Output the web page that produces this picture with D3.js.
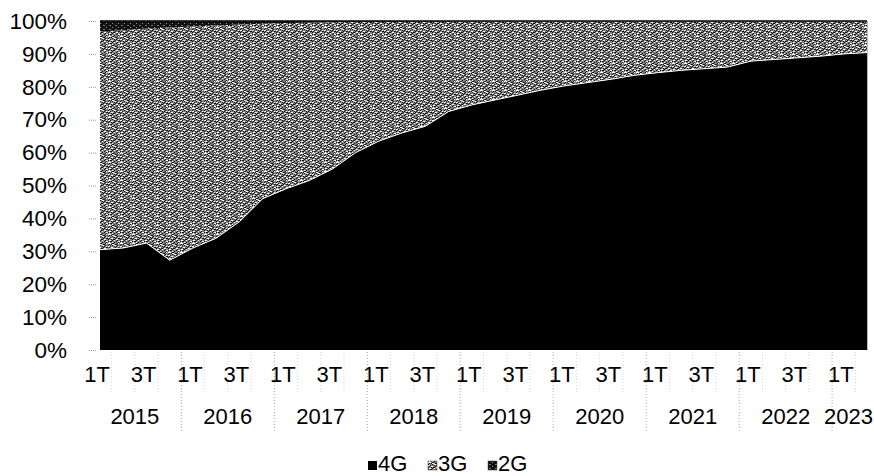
<!DOCTYPE html>
<html><head><meta charset="utf-8">
<script src="https://cdn.jsdelivr.net/npm/d3@7"></script>
<style>body{margin:0;background:#fff}svg{display:block}text{font-family:"Liberation Sans",Arial,sans-serif;fill:#000}</style>
</head><body>
<svg id="c" width="874" height="476"></svg>
<script>
const years = ["2015","2016","2017","2018","2019","2020","2021","2022","2023"];
const quarterNames = ["1T","2T","3T","4T"];
const categories = [];
years.forEach(y => quarterNames.forEach(q => { if (!(y === "2023" && (q === "3T" || q === "4T"))) categories.push({year: y, q: q}); }));
const share4G = [30.5,31,32.5,27.3,31,34,39,46,49,51.5,55,60,63.5,66,68,72.5,74.5,76,77.5,79,80.3,81.3,82.3,83.5,84.3,85,85.5,86,87.8,88.3,88.8,89.3,90,90.4];
const share3G = [66.3,66.2,65.2,70.7,67.3,64.6,59.9,53.2,50.4,48.0,44.6,39.7,36.2,33.8,31.8,27.3,25.4,23.9,22.4,20.9,19.6,18.6,17.6,16.4,15.6,14.9,14.4,13.9,12.1,11.6,11.1,10.6,9.9,9.5];
const share2G = [3.2,2.8,2.3,2.0,1.7,1.4,1.1,0.8,0.6,0.5,0.4,0.3,0.3,0.2,0.2,0.2,0.1,0.1,0.1,0.1,0.1,0.1,0.1,0.1,0.1,0.1,0.1,0.1,0.1,0.1,0.1,0.1,0.1,0.1];
const yTicks = [0,0.1,0.2,0.3,0.4,0.5,0.6,0.7,0.8,0.9,1];
const seriesKeys = ["4G","3G","2G"];

const rows = categories.map((c,i) => ({i, "4G": share4G[i], "3G": share3G[i], "2G": share2G[i]}));
const svg = d3.select("#c");
const defs = svg.append("defs");
// textured grey for 3G (scanned halftone look), fixed tile
const tex = [
  "wwwgkkgggkwg",
  "gkgkwwgkkggg",
  "kgggkgwwgkgg",
  "wwkgggkgkgwg",
  "gkgwwggkggkk",
  "kggkgkkgwwgg",
  "gwwgkgwggkgg",
  "kgkkggggkgww",
  "gwggwgkgggkg"
];
const texCol = {w:"#ffffff", g:"#828282", k:"#141414"};
const p3 = defs.append("pattern").attr("id","tex3").attr("patternUnits","userSpaceOnUse").attr("width",12).attr("height",9);
tex.forEach((row,ry) => row.split("").forEach((ch,rx) =>
  p3.append("rect").attr("x",rx).attr("y",ry).attr("width",1).attr("height",1).attr("fill",texCol[ch])));
const p2 = defs.append("pattern").attr("id","tex2").attr("patternUnits","userSpaceOnUse").attr("width",6).attr("height",4);
p2.append("rect").attr("width",6).attr("height",4).attr("fill","#111");
[[1,1,2,1,"#777"],[4,3,1,1,"#999"]].forEach(r => p2.append("rect").attr("x",r[0]).attr("y",r[1]).attr("width",r[2]).attr("height",r[3]).attr("fill",r[4]));
const fills = {"4G":"#000","3G":"url(#tex3)","2G":"url(#tex2)"};

const x = d3.scalePoint().domain(d3.range(categories.length)).range([100, 867]);
const y = d3.scaleLinear().domain([0,1]).range([350, 21]);
const stack = d3.stack().keys(seriesKeys).offset(d3.stackOffsetExpand);
const series = stack(rows);
const area = d3.area().x(d => x(d.data.i)).y0(d => y(d[0])).y1(d => y(d[1]));

svg.append("g").selectAll("path").data(series).join("path")
  .attr("d", area).attr("fill", d => fills[d.key]);
svg.append("path").datum(series[0])
  .attr("d", d3.line().x(d => x(d.data.i)).y(d => y(d[1])))
  .attr("fill","none").attr("stroke","#fff").attr("stroke-width",1);
svg.append("line").attr("x1",100).attr("x2",867).attr("y1",y(1)).attr("y2",y(1)).attr("stroke","#000").attr("stroke-width",1.5);
svg.append("line").attr("x1",867.5).attr("x2",867.5).attr("y1",y(1)).attr("y2",y(0)).attr("stroke","#bbb");

// y axis
const yAxis = d3.axisLeft(y).tickValues(yTicks).tickFormat(d3.format(".0%")).tickSize(7).tickPadding(22);
const ga = svg.append("g").attr("transform","translate(96,0)").call(yAxis);
ga.select(".domain").remove();
ga.selectAll(".tick line").attr("stroke","#999").attr("stroke-dasharray","1,1");
ga.selectAll(".tick text").style("font-size","22.5px").style("font-family","'Liberation Sans',Arial,sans-serif").attr("fill","#000");

// x axis: quarter labels
const gx = svg.append("g");
categories.forEach((c,i) => {
  if (c.q === "1T" || c.q === "3T") {
    gx.append("text").attr("x", x(i) - 3).attr("y", 382).attr("text-anchor","middle")
      .style("font-size","22px").text(c.q);
  }
});
const step = x.step();
categories.forEach((c,i) => {
  if (i === categories.length - 1) return;
  const xm = x(i) + step/2;
  const yearBreak = categories[i+1].year !== c.year;
  gx.append("line").attr("x1", xm).attr("x2", xm).attr("y1", 352).attr("y2", yearBreak ? 432 : 392)
    .attr("stroke", "#aaa").attr("stroke-dasharray","1,2").attr("stroke-width", yearBreak ? 1 : 0.8)
    .attr("opacity", yearBreak ? 1 : 0.6);
});
// year labels
years.forEach(yr => {
  const idx = categories.map((c,i) => c.year === yr ? i : -1).filter(i => i >= 0);
  const cx = d3.mean(idx, i => x(i));
  const t = gx.append("text").attr("y", 424).style("font-size","22px").text(yr);
  if (cx + 26 > 872) t.attr("x", 873).attr("text-anchor","end");
  else t.attr("x", cx).attr("text-anchor","middle");
});

// legend
const lg = svg.append("g").attr("transform","translate(368,471)");
const legendX = [0, 60, 120];
seriesKeys.forEach((k,j) => {
  lg.append("rect").attr("x", legendX[j]).attr("y", -10).attr("width", 9).attr("height", 9).attr("fill", fills[k]).attr("stroke", k === "4G" ? "none" : "#444").attr("stroke-width",0.5);
  lg.append("text").attr("x", legendX[j] + 10).attr("y", 0).style("font-size","22px").text(k);
});
</script>
</body></html>
